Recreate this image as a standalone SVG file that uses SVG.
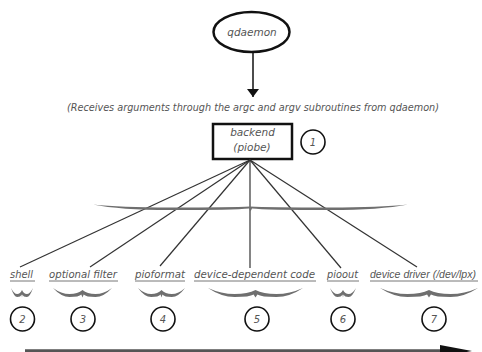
<svg xmlns="http://www.w3.org/2000/svg" xmlns:xlink="http://www.w3.org/1999/xlink" width="482" height="352" viewBox="0 0 482 352">
<style>
.t{font-family:"DejaVu Sans","Liberation Sans",sans-serif;font-style:italic;font-size:10px;fill:#555}
.big{font-size:10.5px}
.lib{font-family:"Liberation Sans",sans-serif;font-size:10.5px}
.ul{stroke:#666;stroke-width:0.9}
.cn{stroke:#333;stroke-width:1.2;fill:none}
.num{fill:none;stroke:#111;stroke-width:1.6}
.br{fill:#6f6f6f}
</style>
<defs>
<path id="brace" d="M-50,-4 Q-36,2 -22,2 Q-8,2 0,-2 Q8,2 22,2 Q36,2 50,-4 Q36,5 22,5 Q6,5 2,2.5 L0,5.5 L-2,2.5 Q-6,5 -22,5 Q-36,5 -50,-4 Z"/>
<marker id="ah" viewBox="0 0 10 10" refX="10" refY="5" markerWidth="8" markerHeight="12" markerUnits="userSpaceOnUse" orient="auto" preserveAspectRatio="none">
<path d="M0,0 L10,5 L0,10 Z" fill="#111"/>
</marker>
</defs>
<rect width="482" height="352" fill="#fff"/>

<g id="qdaemon">
<ellipse cx="251.5" cy="32" rx="38" ry="20" fill="none" stroke="#111" stroke-width="2.5"/>
<text class="t big" x="252" y="36" text-anchor="middle">qdaemon</text>
</g>

<g id="note">
<text class="t" x="67" y="111" textLength="372" lengthAdjust="spacingAndGlyphs">(Receives arguments through the argc and argv subroutines from qdaemon)</text>
</g>

<g id="backend">
<rect x="213" y="124" width="79" height="35" fill="none" stroke="#111" stroke-width="2.5"/>
<text class="t big" x="252.5" y="136" text-anchor="middle">backend</text>
<text class="t big" x="252" y="151" text-anchor="middle">(piobe)</text>
</g>

<g id="n1">
<circle class="num" cx="313" cy="142" r="12"/>
<text class="t" x="313" y="146" text-anchor="middle">1</text>
</g>

<g id="connectors">
<line x1="253" y1="52" x2="253" y2="97" stroke="#111" stroke-width="1.5" marker-end="url(#ah)"/>
<line class="cn" x1="250" y1="160" x2="20" y2="267"/>
<line class="cn" x1="250" y1="160" x2="90" y2="267"/>
<line class="cn" x1="250" y1="160" x2="160" y2="266"/>
<line class="cn" x1="250" y1="160" x2="250" y2="268"/>
<line class="cn" x1="250" y1="160" x2="341" y2="268"/>
<line class="cn" x1="250" y1="160" x2="417" y2="267"/>
</g>

<g id="bigbrace">
<path class="br" d="M93,204.5 Q120,207.5 170,207.5 Q232,207.5 250,206.5 Q268,207.5 330,207.5 Q380,207.5 408,204.5 Q380,210 330,210 Q265,210 252,208.5 L250.5,211.5 L249,208.5 Q235,210 170,210 Q120,210 93,204.5 Z"/>
</g>

<g id="shell">
<text class="t" x="10" y="278" textLength="23" lengthAdjust="spacingAndGlyphs">shell</text>
<line class="ul" x1="10" y1="281" x2="35" y2="281"/>
<use xlink:href="#brace" class="br" transform="translate(22,292) scale(0.22,1)"/>
<circle class="num" cx="22.5" cy="319" r="12"/>
<text class="t" x="22.5" y="323" text-anchor="middle">2</text>
</g>

<g id="filter">
<text class="t" x="49" y="278" textLength="68" lengthAdjust="spacingAndGlyphs">optional filter</text>
<line class="ul" x1="49" y1="281" x2="118" y2="281"/>
<use xlink:href="#brace" class="br" transform="translate(82.5,292) scale(0.59,1)"/>
<circle class="num" cx="83" cy="319" r="12"/>
<text class="t" x="83" y="323" text-anchor="middle">3</text>
</g>

<g id="pioformat">
<text class="t" x="135" y="278" textLength="50" lengthAdjust="spacingAndGlyphs">pioformat</text>
<line class="ul" x1="135" y1="281" x2="185" y2="281"/>
<use xlink:href="#brace" class="br" transform="translate(161.5,292) scale(0.47,1)"/>
<circle class="num" cx="163" cy="319" r="12"/>
<text class="t" x="163" y="323" text-anchor="middle">4</text>
</g>

<g id="devcode">
<text class="t" x="194" y="278" textLength="121" lengthAdjust="spacingAndGlyphs">device-dependent code</text>
<line class="ul" x1="194" y1="281" x2="316" y2="281"/>
<use xlink:href="#brace" class="br" transform="translate(255.5,292) scale(0.95,1)"/>
<circle class="num" cx="257" cy="319" r="12"/>
<text class="t" x="257" y="323" text-anchor="middle">5</text>
</g>

<g id="pioout">
<text class="t" x="327" y="278" textLength="31" lengthAdjust="spacingAndGlyphs">pioout</text>
<line class="ul" x1="327" y1="281" x2="359" y2="281"/>
<use xlink:href="#brace" class="br" transform="translate(343,292) scale(0.26,1)"/>
<circle class="num" cx="343" cy="319" r="12"/>
<text class="t" x="343" y="323" text-anchor="middle">6</text>
</g>

<g id="driver">
<text class="t lib" x="370" y="278" textLength="106" lengthAdjust="spacingAndGlyphs">device driver (/dev/lpx)</text>
<line class="ul" x1="370" y1="281" x2="478" y2="281"/>
<use xlink:href="#brace" class="br" transform="translate(429,292) scale(0.98,1)"/>
<circle class="num" cx="434" cy="319" r="12"/>
<text class="t" x="434" y="323" text-anchor="middle">7</text>
</g>

<g id="flow">
<line x1="25" y1="351" x2="445" y2="351" stroke="#555" stroke-width="3.5"/>
<path d="M440,345 L472,351 L440,357 Z" fill="#111"/>
</g>
</svg>
